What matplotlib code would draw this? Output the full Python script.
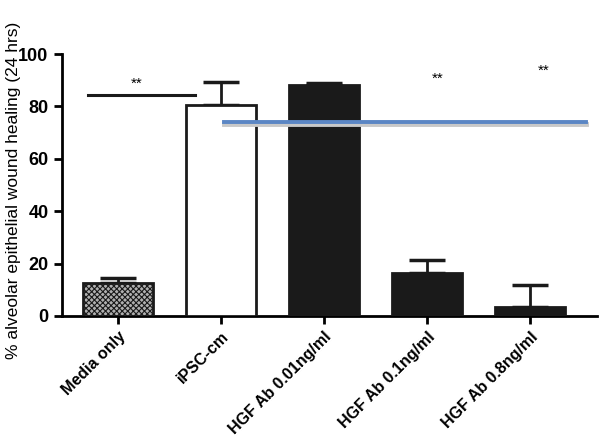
import matplotlib.pyplot as plt
import matplotlib as mpl

plt.rcParams['font.family'] = ['Liberation Sans', 'DejaVu Sans']
mpl.rcParams['hatch.linewidth'] = 0.8

groups = ['Media only', 'iPSC-cm', 'HGF Ab 0.01ng/ml', 'HGF Ab 0.1ng/ml', 'HGF Ab 0.8ng/ml']
means = [12.5, 80.5, 88.3, 16.5, 3.5]
errors = [2.0, 9.0, 0.8, 5.0, 8.5]
stars = [(0.18, 86, '**'), (3.1, 88, '**'), (4.13, 91, '**')]

fig = plt.figure(figsize=(6, 4.4), dpi=100)
ax = fig.add_axes([0.103, 0.282, 0.892, 0.595])

x = list(range(len(groups)))
colors = ['#b0b0b0', 'white', '#1a1a1a', '#1a1a1a', '#1a1a1a']
for i in x:
    ax.errorbar(i, means[i], yerr=[[0], [errors[i]]], color='#1a1a1a', capsize=13,
                elinewidth=2, capthick=2.5, zorder=2)
    b = ax.bar(i, means[i], width=0.68, color=colors[i], edgecolor='#1a1a1a',
               linewidth=2, zorder=3)
    if i == 0:
        b[0].set_hatch('xxxxxx')

# significance lines
ax.plot([-0.29, 0.75], [84.5, 84.5], color='#1a1a1a', lw=2.2, zorder=4)
ax.plot([1.03, 4.54], [73.2, 73.2], color='#c8c8c8', lw=3.5, zorder=4)
ax.plot([1.03, 4.54], [74.0, 74.0], color='#5b86c4', lw=2.8, zorder=5)
for sx, sy, s in stars:
    ax.text(sx, sy, s, ha='center', va='bottom', fontsize=11)

ax.set_xlim(-0.544, 4.65)
ax.set_ylim(0, 100)
ax.set_yticks([0, 20, 40, 60, 80, 100])
ax.set_xticks(x)
ax.set_xticklabels(groups, rotation=45, ha='right', rotation_mode='anchor',
                   fontsize=11.5, fontweight='bold')
for lab in ax.get_yticklabels():
    lab.set_fontweight('bold')
    lab.set_fontsize(13)
ax.spines['top'].set_visible(False)
ax.spines['right'].set_visible(False)
ax.spines['left'].set_linewidth(2)
ax.spines['bottom'].set_linewidth(2)
ax.tick_params(width=2, length=6, direction='out')
ax.set_ylabel('% alveolar epithelial wound healing (24 hrs)', fontsize=12.5)
ax.yaxis.set_label_coords(-0.077, 0.48)

plt.savefig('out.png', dpi=100)
